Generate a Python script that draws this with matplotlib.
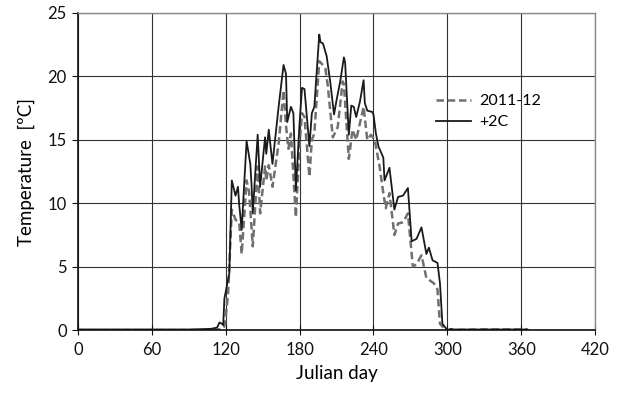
import matplotlib.pyplot as plt

# values (Julian day, temperature degC)
base_days = [0, 60, 110, 117, 119, 120, 122, 125, 128, 131, 133, 137, 139, 142,
             146, 148, 152, 153, 155, 158, 163, 167, 169, 171, 173, 177, 180, 182,
             184, 188, 190, 192, 196, 198, 201, 203, 207, 211, 215, 216, 220, 223,
             226, 232, 235, 238, 241, 245, 248, 250, 253, 257, 260, 264, 268, 272,
             275, 279, 283, 289, 292, 294, 298, 300, 330, 365]
base_temp = [0.0, 0.0, 0.0, 0.1, 0.3, 1.0, 2.9, 9.5, 8.7, 8.5, 6.0, 11.8, 10.9, 6.6,
             12.9, 9.2, 12.9, 11.8, 13.0, 11.3, 14.7, 18.9, 16.1, 14.3, 15.5, 8.9, 14.6, 17.1,
             16.8, 12.1, 15.0, 15.5, 21.2, 21.0, 20.6, 19.2, 15.2, 16.0, 19.6, 19.4, 13.5, 15.8,
             15.0, 17.6, 15.0, 15.4, 15.0, 12.9, 10.8, 9.6, 10.8, 7.5, 8.4, 8.5, 9.2, 5.0,
             5.2, 5.9, 4.1, 3.7, 3.2, 0.5, 0.1, 0.0, 0.05, 0.05]

warm_days = [0, 30, 60, 90, 108, 113, 115, 117, 118, 119, 121, 123, 125, 128, 130,
             131, 133, 137, 140, 141, 142, 146, 148, 152, 153, 155, 158, 163, 167, 169,
             170, 173, 175, 177, 180, 182, 184, 188, 190, 192, 196, 197, 199, 202, 205,
             208, 210, 213, 216, 217, 220, 222, 224, 226, 229, 232, 233, 235, 239, 240,
             242, 244, 248, 249, 253, 257, 260, 264, 268, 271, 275, 279, 283, 285, 288,
             292, 294, 296, 300, 303, 305, 330, 365]
warm_temp = [0.05, 0.05, 0.05, 0.05, 0.1, 0.2, 0.6, 0.5, 0.4, 2.5, 3.5, 4.5, 11.8, 10.6, 11.3,
             9.9, 7.9, 14.9, 13.1, 11.5, 9.2, 15.4, 11.3, 15.2, 13.9, 15.8, 13.1, 17.6, 20.9, 20.2,
             16.4, 17.6, 17.1, 11.0, 16.3, 19.1, 19.0, 14.5, 17.1, 17.6, 23.3, 22.7, 22.6, 21.6, 19.5,
             17.0, 18.1, 19.6, 21.5, 21.1, 15.4, 17.7, 17.6, 16.8, 18.0, 19.7, 17.9, 17.3, 17.2, 17.0,
             15.5, 14.5, 13.6, 11.8, 12.8, 9.5, 10.5, 10.6, 11.2, 7.0, 7.2, 8.1, 6.0, 6.5, 5.5,
             5.3, 3.7, 0.5, 0.0, 0.1, 0.05, 0.05, 0.05]

x_ticks = [0, 60, 120, 180, 240, 300, 360, 420]
y_ticks = [0, 5, 10, 15, 20, 25]

plt.rcParams['font.family'] = ['Lato', 'DejaVu Sans']

fig = plt.figure(figsize=(6.18, 3.93), dpi=100)
ax = fig.add_axes([0.126, 0.160, 0.837, 0.807])

ax.plot(base_days, base_temp, color='#707070', lw=1.8, ls=(0, (3, 1.5)), label='2011-12')
ax.plot(warm_days, warm_temp, color='#1a1a1a', lw=1.3, label='+2C')

ax.set_xlim(0, 420)
ax.set_ylim(0, 25)
ax.set_xticks(x_ticks)
ax.set_yticks(y_ticks)
ax.grid(True, color='#333333', lw=0.8)
ax.set_axisbelow(True)

for s in ['top', 'right']:
    ax.spines[s].set_color('#888888')
    ax.spines[s].set_linewidth(1.0)
for s in ['left', 'bottom']:
    ax.spines[s].set_color('#111111')
    ax.spines[s].set_linewidth(1.2)
ax.tick_params(axis='x', direction='inout', length=7, labelsize=12, colors='#111111', pad=5)
ax.tick_params(axis='y', direction='out', length=4, labelsize=12, colors='#111111', pad=4)

ax.set_xlabel('Julian day', fontsize=13.5, labelpad=5)
ax.set_ylabel('Temperature  [ºC]', fontsize=13.5, labelpad=9)

ax.legend(loc='upper left', bbox_to_anchor=(0.665, 0.79), frameon=False, fontsize=11.5,
          handlelength=2.2, handletextpad=0.5, labelspacing=0.45)

fig.savefig('out.png', dpi=100)
